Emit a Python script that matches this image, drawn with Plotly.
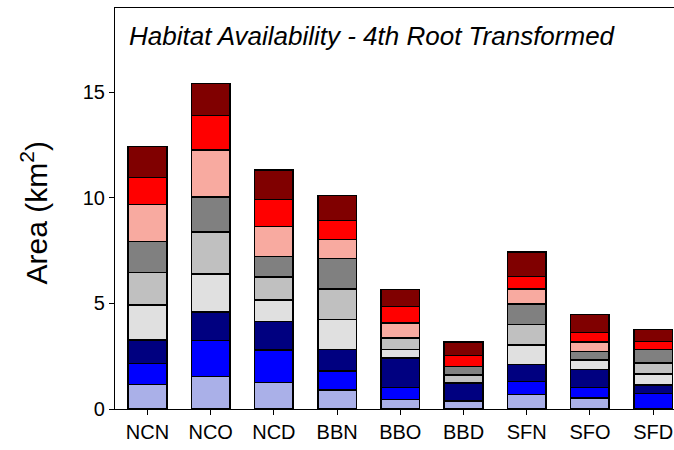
import plotly.graph_objects as go

categories = ["NCN", "NCO", "NCD", "BBN", "BBO", "BBD", "SFN", "SFO", "SFD"]

# stacked segments, bottom to top
seg_lightblue = [1.15, 1.55, 1.26, 0.90, 0.44, 0.38, 0.68, 0.52, 0.00]
seg_blue      = [1.01, 1.69, 1.54, 0.90, 0.58, 0.00, 0.63, 0.50, 0.74]
seg_navy      = [1.11, 1.34, 1.34, 1.01, 1.40, 0.85, 0.80, 0.84, 0.40]
seg_vlgray    = [1.66, 1.80, 1.03, 1.42, 0.40, 0.00, 0.92, 0.46, 0.52]
seg_lgray     = [1.54, 1.99, 1.07, 1.46, 0.54, 0.38, 0.97, 0.00, 0.52]
seg_gray      = [1.47, 1.66, 0.98, 1.43, 0.00, 0.39, 0.98, 0.40, 0.63]
seg_salmon    = [1.74, 2.24, 1.41, 0.90, 0.72, 0.00, 0.71, 0.44, 0.00]
seg_red       = [1.27, 1.63, 1.29, 0.90, 0.78, 0.53, 0.59, 0.47, 0.38]
seg_darkred   = [1.47, 1.50, 1.39, 1.19, 0.79, 0.63, 1.14, 0.84, 0.57]

series = [
    ("Light blue", seg_lightblue, "#aab0e8"),
    ("Blue", seg_blue, "#0000ff"),
    ("Navy", seg_navy, "#000080"),
    ("Very light gray", seg_vlgray, "#e0e0e0"),
    ("Light gray", seg_lgray, "#c0c0c0"),
    ("Gray", seg_gray, "#808080"),
    ("Salmon", seg_salmon, "#f8aaa0"),
    ("Red", seg_red, "#ff0000"),
    ("Dark red", seg_darkred, "#800000"),
]

yticks = [0, 5, 10, 15]

fig = go.Figure()
for name, vals, col in series:
    fig.add_trace(go.Bar(
        x=categories, y=vals, name=name,
        marker=dict(color=col, line=dict(color="#000000", width=1.5)),
    ))

font_family = "Liberation Sans, Arial, sans-serif"

fig.update_layout(
    width=674, height=450,
    barmode="stack", bargap=0.39,
    showlegend=False,
    plot_bgcolor="white", paper_bgcolor="white",
    margin=dict(l=115, r=0, t=8, b=41),
    font=dict(family=font_family, color="black", size=20),
    xaxis=dict(
        type="category",
        range=[-0.514, 8.33],
        showline=True, linecolor="black", linewidth=1.2, mirror=True,
        ticks="outside", ticklen=5, tickcolor="black",
        tickfont=dict(size=20),
        showgrid=False,
    ),
    yaxis=dict(
        range=[0, 18.98],
        tickvals=yticks,
        showline=True, linecolor="black", linewidth=1.2,
        ticks="outside", ticklen=5, tickcolor="black",
        tickfont=dict(size=20),
        showgrid=False, zeroline=False,
    ),
    annotations=[
        dict(text="<i>Habitat Availability - 4th Root Transformed</i>",
             xref="paper", yref="paper", x=0.022, y=0.93,
             xanchor="left", yanchor="middle", showarrow=False,
             font=dict(size=26, family=font_family)),
        dict(text="Area (km<sup>2</sup>)",
             xref="paper", yref="paper", x=-0.145, y=0.49,
             xanchor="center", yanchor="middle", textangle=-90, showarrow=False,
             font=dict(size=30, family=font_family)),
    ],
)

fig.write_html("out.html")
